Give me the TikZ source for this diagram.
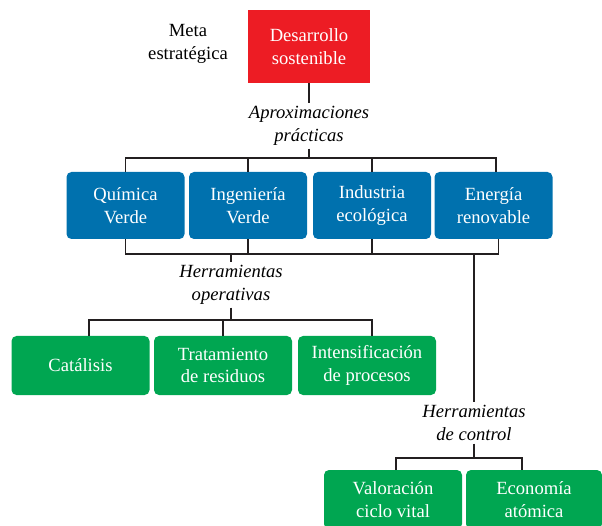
\documentclass[tikz,border=0pt]{standalone}
\usepackage{fontspec}
\setmainfont{Liberation Serif}
\definecolor{rojo}{HTML}{ED1C24}
\definecolor{azul}{HTML}{0071AE}
\definecolor{verde}{HTML}{00A651}
\definecolor{linea}{HTML}{231F20}
\newcommand{\tamano}{\fontsize{18.6}{22.5}\selectfont}
\tikzset{
  caja/.style={align=center,text=white,inner sep=0pt},
  metabox/.style={caja,fill=rojo,minimum width=122,minimum height=73},
  aproxbox/.style={caja,fill=azul,rounded corners=5,minimum width=118,minimum height=67},
  herrbox/.style={caja,fill=verde,rounded corners=5,minimum width=138,minimum height=59},
  rotulo/.style={align=center,font=\tamano\itshape,inner sep=3pt},
  enlace/.style={draw=linea,line width=1.4pt},
}
\begin{document}
\begin{tikzpicture}[x=1pt,y=-1pt,font=\tamano]
    \useasboundingbox (0,0) rectangle (602,526);
    % meta estrategica
    \node[align=center] (metaT) at (188,44) {Meta\\estratégica};
    \node[metabox] (desar) at (309,46.5) {Desarrollo\\sostenible};
    \node[rotulo] (aproxT) at (309,126) {Aproximaciones\\prácticas};
    \coordinate (busA) at (309,158);
    % aproximaciones practicas
    \node[aproxbox] (quim) at (125.5,205.5) {Química\\Verde};
    \node[aproxbox] (ing) at (248,205.5) {Ingeniería\\Verde};
    \node[aproxbox] (ind) at (372,205.5) {Industria\\ecológica};
    \node[aproxbox] (ener) at (493.5,205.5) {Energía\\renovable};
    \coordinate (busB) at (231,254);
    \coordinate (bajada) at (474,254);
    % herramientas operativas
    \node[rotulo] (operT) at (231,285) {Herramientas\\operativas};
    \coordinate (busC) at (231,320);
    \node[herrbox] (cat) at (80.5,365.5) {Catálisis};
    \node[herrbox] (trat) at (223,365.5) {Tratamiento\\de residuos};
    \node[herrbox] (intens) at (367,365.5) {Intensificación\\de procesos};
    % herramientas de control
    \node[rotulo] (controlT) at (474,423) {Herramientas\\de control};
    \coordinate (busD) at (474,458);
    \node[herrbox] (valor) at (393,499.5) {Valoración\\ciclo vital};
    \node[herrbox,minimum width=136] (econ) at (534,499.5) {Economía\\atómica};
    % enlaces
    \draw[enlace] (desar.south) -- (aproxT.north);
    \draw[enlace] (aproxT.south) -- (busA);
    \draw[enlace] (quim.north) |- (busA) -| ([xshift=2.5]ener.north);
    \draw[enlace] (ing.north) -- (ing.north |- busA);
    \draw[enlace] (ind.north) -- (ind.north |- busA);
    \draw[enlace] (quim.south) |- (busB) -| ([xshift=5]ener.south);
    \draw[enlace] (ing.south) -- (ing.south |- busB);
    \draw[enlace] (ind.south) -- (ind.south |- busB);
    \draw[enlace] (busB) -- (operT.north);
    \draw[enlace] (operT.south) -- (busC);
    \draw[enlace] ([xshift=8.5]cat.north) |- (busC) -| ([xshift=5]intens.north);
    \draw[enlace] (trat.north) -- (trat.north |- busC);
    \draw[enlace] (bajada) -- (controlT.north);
    \draw[enlace] (controlT.south) -- (busD);
    \draw[enlace] ([xshift=3]valor.north) |- (busD) -| ([xshift=-12]econ.north);
\end{tikzpicture}
\end{document}
